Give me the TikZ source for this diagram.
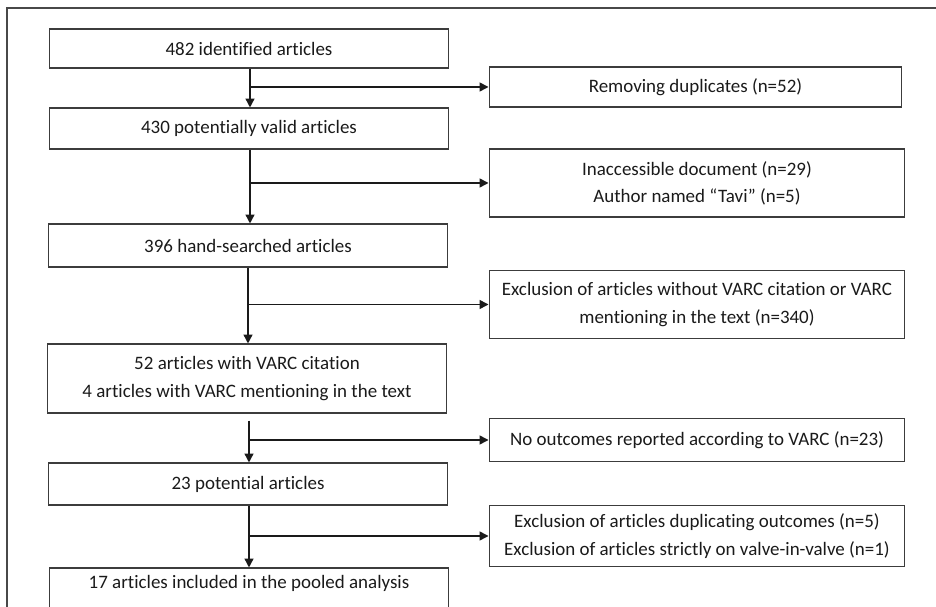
\documentclass[tikz,border=0pt]{standalone}
\usepackage{fontspec}
\setmainfont[Ligatures=NoCommon]{Carlito}
\usetikzlibrary{arrows.meta}
\definecolor{ink}{HTML}{1A1A1A}

\begin{document}
\begin{tikzpicture}[x=0.02cm,y=-0.02cm,>={Triangle[length=5pt,width=5pt]},
  box/.style={draw=ink!85,line width=.6pt,minimum width=8cm,align=center,
    inner sep=0pt,font=\fontsize{10.8}{15.5}\selectfont,text=ink},
  side/.style={box,minimum width=8.32cm},
  flow/.style={->,line width=.85pt,ink}]
  \useasboundingbox (0,0) rectangle (936,607);
  \draw[ink!80,line width=.6pt] (7,8) rectangle (950,620);

  % main column
  \node[box,minimum height=0.78cm] (ident) at (249,48.5) {482 identified articles};
  \node[box,minimum height=0.82cm] (valid) at (249,128.5) {430 potentially valid articles};
  \node[box,minimum height=0.86cm] (hand) at (248,245.5) {396 hand-searched articles};
  \node[box,minimum height=1.38cm] (varc) at (247,378.5)
    {52 articles with VARC citation\\4 articles with VARC mentioning in the text};
  \node[box,minimum height=0.84cm] (potent) at (248,484) {23 potential articles};
  \node[box,minimum height=0.84cm,text depth=0.3cm] (pooled) at (249,589)
    {17 articles included in the pooled analysis};

  % exclusions
  \node[side,minimum width=8.26cm,minimum height=0.8cm] (dup) at (695.5,87)
    {Removing duplicates (n=52)};
  \node[side,minimum height=1.36cm] (inacc) at (697,183)
    {Inaccessible document (n=29)\\Author named “Tavi” (n=5)};
  \node[side,minimum height=1.36cm] (novarc) at (697,304.5)
    {Exclusion of articles without VARC citation or VARC\\mentioning in the text (n=340)};
  \node[side,minimum height=0.86cm] (nooutc) at (697,440)
    {No outcomes reported according to VARC (n=23)};
  \node[side,minimum height=1.22cm] (dupout) at (697,536)
    {Exclusion of articles duplicating outcomes (n=5)\\Exclusion of articles strictly on valve-in-valve (n=1)};

  % flow
  \draw[flow] (ident.south -| 250,0) -- (valid.north -| 250,0);
  \draw[flow] (valid.south -| 250,0) -- (hand.north -| 250,0);
  \draw[flow] (hand.south -| 248,0) -- (varc.north -| 248,0);
  \draw[flow,shorten <=0.14cm] (varc.south -| 249,0) -- (potent.north -| 249,0);
  \draw[flow] (potent.south -| 249,0) -- (pooled.north -| 249,0);

  \draw[flow] (250,0 |- dup) -- (dup);
  \draw[flow] (250,0 |- inacc) -- (inacc);
  \draw[flow] (248,0 |- novarc) -- (novarc);
  \draw[flow] (249,0 |- nooutc) -- (nooutc);
  \draw[flow] (249,0 |- dupout) -- (dupout);
\end{tikzpicture}
\end{document}
